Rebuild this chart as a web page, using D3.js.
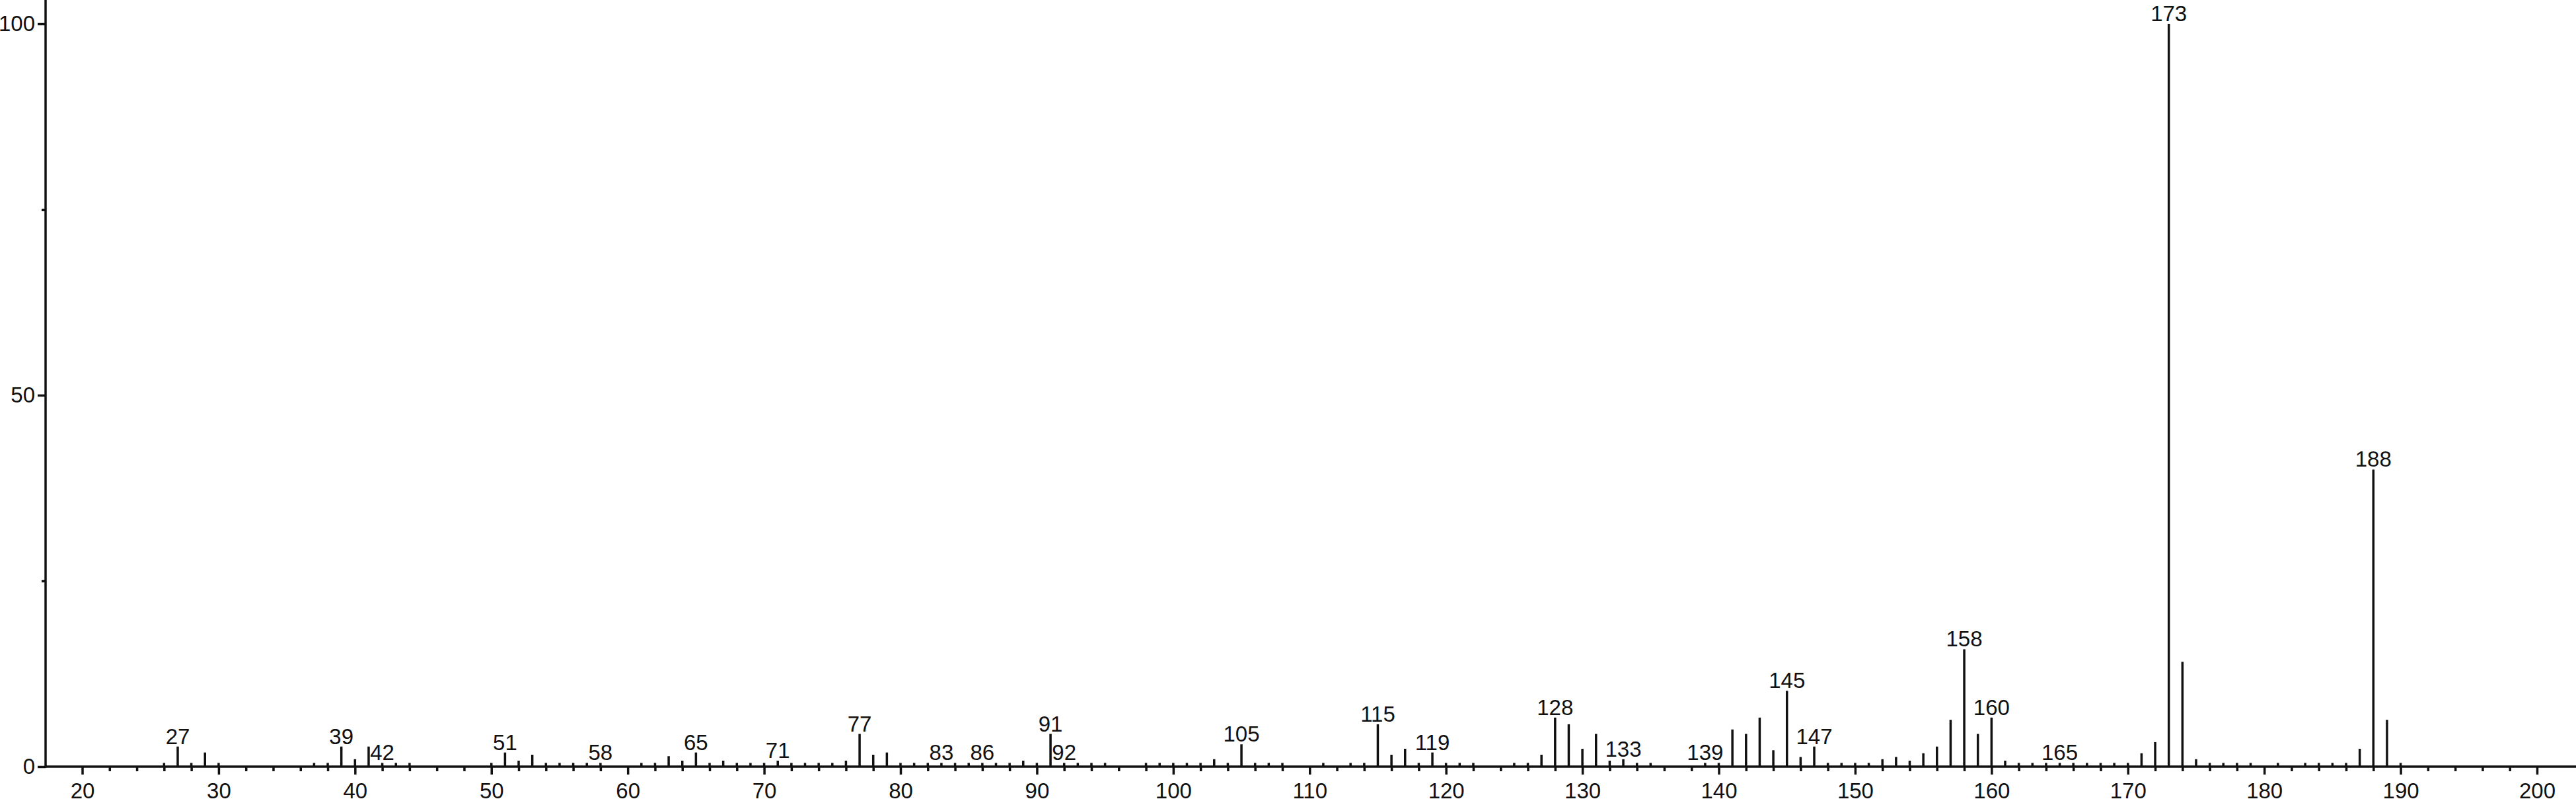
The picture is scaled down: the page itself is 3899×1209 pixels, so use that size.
<!DOCTYPE html>
<html>
<head>
<meta charset="utf-8">
<script src="https://cdn.jsdelivr.net/npm/d3@7"></script>
<style>
  body { margin: 0; background: #fff; }
  svg { display: block; }
  text { font-family: "Liberation Sans", Arial, sans-serif; fill: #111; }
</style>
</head>
<body>
<div id="container"></div>
<script>
// m/z values and relative intensities (%)
let mz = [26,27,28,29,30,37,38,39,40,41,42,43,44,50,51,52,53,54,55,56,57,58,
  61,62,63,64,65,66,67,68,69,70,71,72,73,74,75,76,77,78,79,80,81,82,83,84,85,86,87,88,89,90,
  91,92,93,94,95,98,99,100,101,102,103,104,105,106,107,108,111,113,114,115,116,117,118,119,
  120,121,122,125,126,127,128,129,130,131,132,133,134,135,139,140,141,142,143,144,145,146,147,
  148,149,150,151,152,153,154,155,156,157,158,159,160,161,162,163,164,165,166,167,168,169,170,
  171,172,173,174,175,176,177,178,179,181,183,184,185,186,187,188,189,190];

let intensity = [0.5,2.7,0.5,1.9,0.5,0.5,0.5,2.7,1.0,2.7,0.5,0.5,0.5,0.5,1.9,0.8,1.6,0.5,0.5,0.5,0.5,0.5,
  0.5,0.5,1.4,0.8,1.9,0.5,0.8,0.5,0.5,0.5,0.8,0.5,0.5,0.5,0.5,0.8,4.4,1.6,1.9,0.5,0.5,0.5,0.5,0.5,0.5,0.5,0.5,0.5,0.8,0.5,
  4.4,0.5,0.5,0.5,0.5,0.5,0.5,0.5,0.5,0.5,1.0,0.5,3.0,0.5,0.5,0.5,0.5,0.5,0.5,5.7,1.6,2.4,0.5,1.9,
  0.5,0.5,0.5,0.5,0.5,1.6,6.6,5.7,2.4,4.4,0.8,1.0,0.5,0.5,0.5,0.5,5.0,4.4,6.6,2.2,10.2,1.3,2.7,
  0.5,0.5,0.5,0.5,1.0,1.3,0.8,1.8,2.7,6.3,15.8,4.4,6.6,0.8,0.5,0.5,0.5,0.5,0.5,0.5,0.5,0.5,0.5,
  1.8,3.3,100,14.1,1.0,0.5,0.5,0.5,0.5,0.5,0.5,0.5,0.5,0.5,2.4,40.0,6.3,0.5];

// peaks that carry an m/z label
let labeled = [27,39,42,51,58,65,71,77,83,86,91,92,105,115,119,128,133,139,145,147,158,160,165,173,188];

let xMajor = d3.range(20, 201, 10);
let xMinor = d3.range(20, 201, 2).filter(v => v % 10 !== 0);
let yMajor = [0, 50, 100];
let yMinor = [25, 75];

let peaks = mz.map((m, i) => ({mz: m, val: intensity[i]}));

let width = 3899, height = 1209;
let x0 = 69, yBase = 1160;

let svg = d3.select('#container')
            .append('svg')
            .attr('width', width)
            .attr('height', height);

svg.append('rect').attr('width', width).attr('height', height).attr('fill', '#fff');

let x = d3.scaleLinear().domain([20, 200]).range([124.5, 3840]);
let y = d3.scaleLinear().domain([0, 100]).range([yBase, 36]);

//axes
let gx = svg.append('g').attr('transform', `translate(0,${yBase})`);
gx.call(d3.axisBottom(x).tickValues(xMajor).tickSize(12).tickPadding(13).tickSizeOuter(0));
gx.append('g').call(d3.axisBottom(x).tickValues(xMinor).tickSize(7).tickFormat('').tickSizeOuter(0));

let gy = svg.append('g').attr('transform', `translate(${x0},0)`);
gy.call(d3.axisLeft(y).tickValues(yMajor).tickSize(12).tickPadding(4).tickSizeOuter(0));
gy.append('g').call(d3.axisLeft(y).tickValues(yMinor).tickSize(6).tickFormat('').tickSizeOuter(0));

svg.selectAll('.domain').remove();
svg.selectAll('.tick line').attr('stroke', '#111').attr('stroke-width', 3.5);
svg.selectAll('.tick text').attr('font-size', 33).attr('fill', '#111');

// axis lines
svg.append('line')
   .attr('x1', x0).attr('x2', width)
   .attr('y1', yBase).attr('y2', yBase)
   .attr('stroke', '#111').attr('stroke-width', 3.5);
svg.append('line')
   .attr('x1', x0).attr('x2', x0)
   .attr('y1', 0).attr('y2', yBase + 1.75)
   .attr('stroke', '#111').attr('stroke-width', 3.5);

// peaks
svg.selectAll('line.peak')
   .data(peaks)
   .enter()
   .append('line')
   .attr('class', 'peak')
   .attr('x1', d => x(d.mz))
   .attr('x2', d => x(d.mz))
   .attr('y1', yBase)
   .attr('y2', d => y(d.val))
   .attr('stroke', '#111')
   .attr('stroke-width', 3.5);

svg.selectAll('text.plabel')
   .data(peaks.filter(d => labeled.includes(d.mz)))
   .enter()
   .append('text')
   .attr('class', 'plabel')
   .attr('x', d => x(d.mz))
   .attr('y', d => y(d.val) - 4)
   .attr('text-anchor', 'middle')
   .attr('font-size', 33)
   .text(d => d.mz);
</script>
</body>
</html>
